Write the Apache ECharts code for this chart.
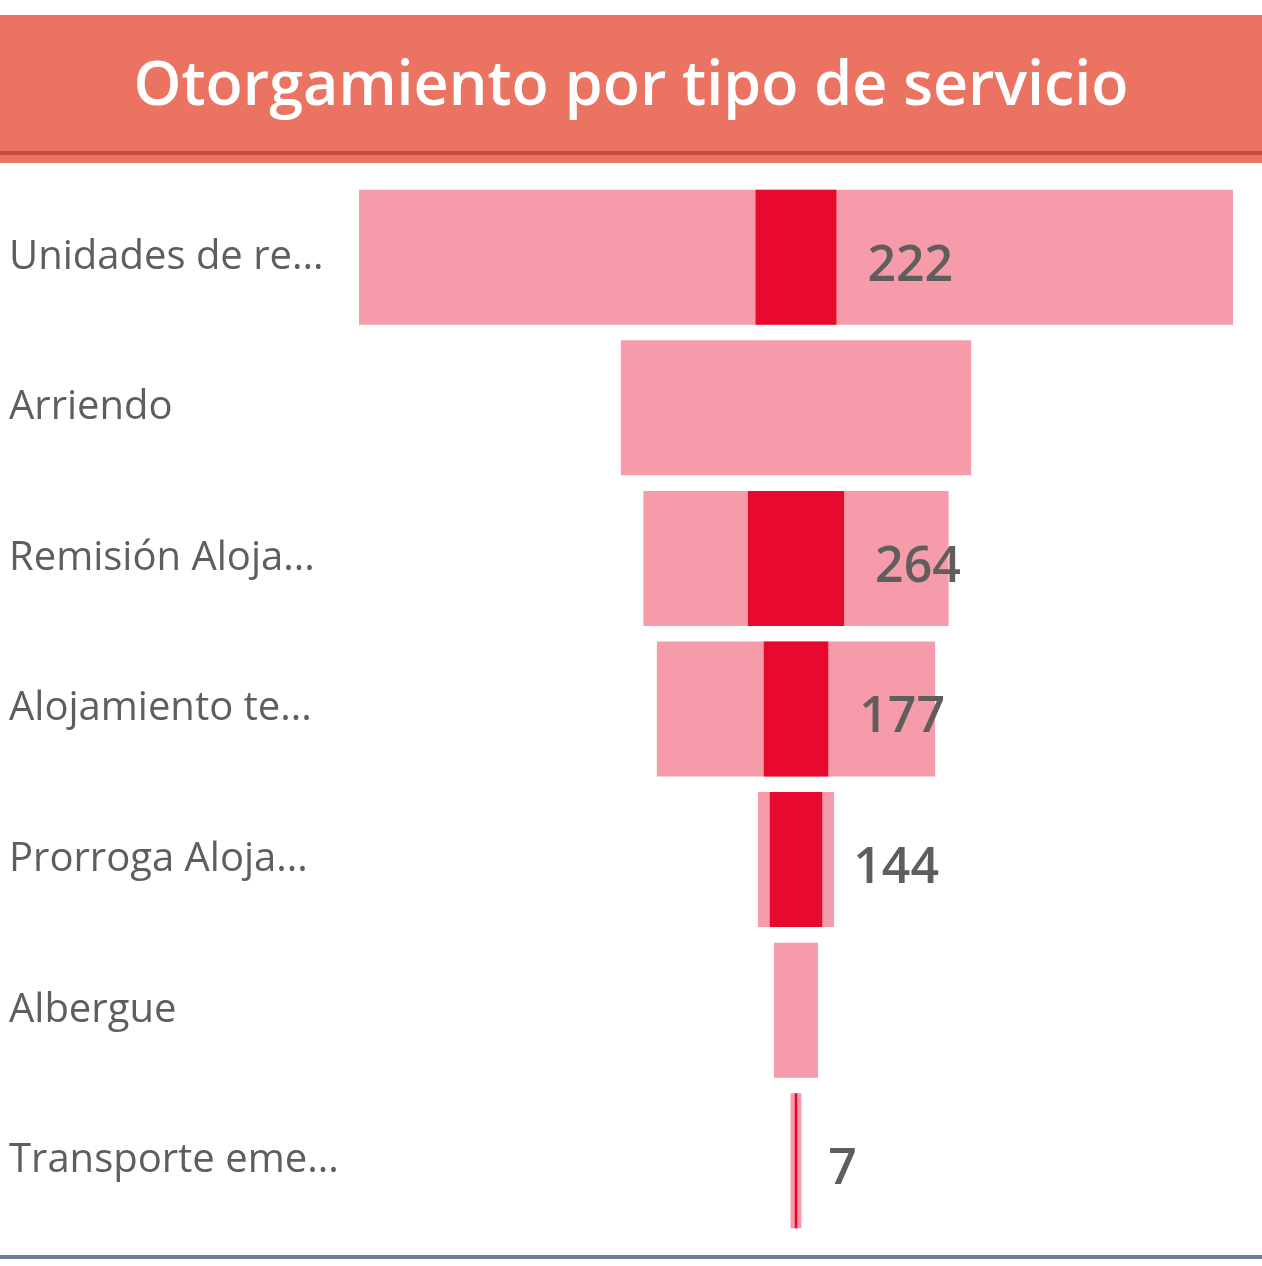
<!DOCTYPE html>
<html>
<head>
<meta charset="utf-8">
<script src="https://cdn.jsdelivr.net/npm/echarts@6/dist/echarts.min.js"></script>
<style>
  html, body { margin: 0; padding: 0; background: #fff; }
  #main { width: 1262px; height: 1266px; }
</style>
</head>
<body>
<div id="main"></div>
<script>
var categories = ['Unidades de re...', 'Arriendo', 'Remisión Aloja...', 'Alojamiento te...', 'Prorroga Aloja...', 'Albergue', 'Transporte eme...'];
var totalVals = [2400, 962, 838, 764, 209, 121, 30];
var grantedVals = [222, 0, 264, 177, 144, 0, 7];

function half(arr, sign) {
  return arr.map(function (v) { return v ? sign * v / 2 : '-'; });
}

var myChart = echarts.init(document.getElementById('main'));
var pink = '#F59BA9';
var red = '#E8092E';
var textGrey = '#605E5C';

var option = {
  backgroundColor: '#fff',
  animation: false,
  title: {
    text: 'Otorgamiento por tipo de servicio',
    left: 'center',
    top: 52,
    textStyle: {
      color: '#fff',
      fontSize: 61,
      fontWeight: 600,
      fontFamily: 'Open Sans'
    }
  },
  graphic: [
    { type: 'rect', z: -1, shape: { x: 0, y: 15, width: 1262, height: 148 }, style: { fill: '#EB7362' } },
    { type: 'rect', z: -1, shape: { x: 0, y: 151, width: 1262, height: 4 }, style: { fill: '#C84A40' } },
    { type: 'rect', shape: { x: 0, y: 1255, width: 1262, height: 4 }, style: { fill: '#6F7F97' } }
  ],
  grid: {
    left: 359,
    right: 29,
    top: 182,
    bottom: 30
  },
  xAxis: {
    type: 'value',
    min: -1200,
    max: 1200,
    show: false
  },
  yAxis: {
    type: 'category',
    data: categories,
    inverse: true,
    axisLine: { show: false },
    axisTick: { show: false },
    axisLabel: {
      align: 'left',
      margin: 350,
      color: textGrey,
      fontSize: 40,
      fontFamily: 'Open Sans',
      padding: [10, 0, 0, 0]
    }
  },
  series: [
    {
      name: 'Total', type: 'bar', barWidth: 135, barGap: '-100%',
      itemStyle: { color: pink }, data: half(totalVals, 1)
    },
    {
      name: 'Total', type: 'bar', barWidth: 135, barGap: '-100%',
      itemStyle: { color: pink }, data: half(totalVals, -1)
    },
    {
      name: 'Otorgado', type: 'bar', barWidth: 135, barGap: '-100%',
      itemStyle: { color: red }, data: half(grantedVals, -1)
    },
    {
      name: 'Otorgado', type: 'bar', barWidth: 135, barGap: '-100%',
      itemStyle: { color: red },
      data: half(grantedVals, 1),
      label: {
        show: true,
        position: 'right',
        distance: 31,
        offset: [0, 9],
        color: textGrey,
        fontSize: 50,
        fontWeight: 600,
        fontFamily: 'Open Sans',
        formatter: function (p) { return grantedVals[p.dataIndex]; }
      }
    }
  ]
};
myChart.setOption(option);
</script>
</body>
</html>
